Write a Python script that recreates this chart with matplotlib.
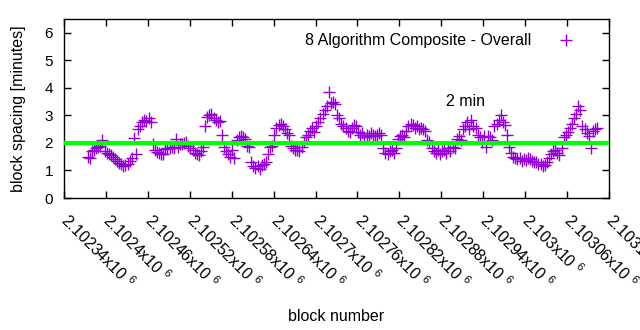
import numpy as np
import matplotlib
matplotlib.use("Agg")
import matplotlib.pyplot as plt

plt.rcParams["font.family"] = ["Liberation Sans", "DejaVu Sans"]
plt.rcParams["mathtext.fontset"] = "custom"
plt.rcParams["mathtext.rm"] = "Liberation Sans"

# block numbers, one point every 3 blocks
blocks = np.arange(2102374, 2103104, 3)

# block spacing in minutes
spacing = [
    1.50, 1.45, 1.72, 1.75, 1.80, 1.85, 1.90, 2.10, 1.70, 1.65,
    1.60, 1.55, 1.50, 1.42, 1.35, 1.28, 1.22, 1.18, 1.20, 1.25,
    1.35, 1.45, 2.18, 1.58, 2.50, 2.60, 2.75, 2.85, 2.80, 2.90,
    2.75, 1.95, 1.75, 1.68, 1.62, 1.58, 1.60, 1.78, 1.82, 1.80,
    1.85, 1.80, 2.15, 1.85, 1.95, 1.95, 2.00, 2.05, 1.90, 1.80,
    1.75, 1.65, 1.60, 1.55, 1.72, 1.85, 2.60, 2.95, 3.00, 3.05,
    2.90, 2.85, 2.75, 2.80, 2.30, 1.85, 1.70, 1.60, 1.50, 1.75,
    1.45, 2.10, 2.20, 2.25, 2.20, 2.15, 1.90, 1.85, 1.30, 1.15,
    1.10, 1.15, 1.05, 1.20, 1.25, 1.30, 1.60, 1.85, 1.90, 2.30,
    2.55, 2.65, 2.70, 2.60, 2.50, 2.35, 2.30, 1.90, 1.80, 1.75,
    1.75, 1.70, 1.85, 2.05, 2.20, 2.30, 2.45, 2.55, 2.40, 2.60,
    2.75, 2.90, 3.05, 3.20, 3.35, 3.85, 3.45, 3.50, 3.40, 3.00,
    2.90, 2.70, 2.60, 2.55, 2.45, 2.40, 2.55, 2.65, 2.60, 2.40,
    2.30, 2.35, 2.20, 2.30, 2.25, 2.35, 2.30, 2.25, 2.30, 2.35,
    2.30, 1.80, 1.65, 1.60, 1.70, 1.75, 1.65, 1.80, 2.15, 2.25,
    2.30, 2.20, 2.45, 2.60, 2.70, 2.65, 2.55, 2.60, 2.50, 2.55,
    2.50, 2.45, 2.10, 2.05, 1.80, 1.70, 1.65, 1.75, 1.60, 1.70,
    1.75, 1.65, 1.80, 1.70, 1.85, 1.80, 2.15, 2.25, 2.10, 2.50,
    2.60, 2.75, 2.50, 2.85, 2.60, 2.55, 2.30, 2.20, 2.05, 2.25,
    1.85, 2.25, 2.20, 2.10, 2.60, 2.70, 2.85, 3.00, 2.75, 2.65,
    2.30, 1.85, 1.65, 1.50, 1.45, 1.40, 1.45, 1.35, 1.42, 1.38,
    1.45, 1.40, 1.35, 1.30, 1.32, 1.25, 1.22, 1.18, 1.20, 1.30,
    1.45, 1.60, 1.70, 1.75, 1.65, 1.55, 1.80, 2.20, 2.30, 2.40,
    2.55, 2.70, 2.90, 3.05, 3.35, 3.20, 2.60, 2.50, 2.35, 2.25,
    1.80, 2.45, 2.50, 2.55,
]

target = 2.0
x_ticks = np.arange(2102340, 2103121, 60)
fs = 11.5

fig = plt.figure(figsize=(6.4, 3.3), dpi=100)
ax = fig.add_axes([0.1, 0.4, 0.8516, 0.5424])

ax.plot(blocks, spacing, "+", color="#9400d3", ms=8, mew=1,
        label="8 Algorithm Composite - Overall", zorder=2)
ax.axhline(target, color="#00ff00", lw=3, zorder=3)
ax.text(2102886, 3.5, "2 min", fontsize=fs, va="center", ha="left")

ax.set_xlim(2102340, 2103120)
ax.set_ylim(0, 6.5)
ax.set_yticks(range(7))
ax.set_xticks(x_ticks)
ax.set_xticklabels([f"{v / 1e6:g}x10 $^6$" for v in x_ticks],
                   rotation=-45, ha="left", va="center", rotation_mode="anchor")
ax.tick_params(direction="in", length=5, top=True, right=True, width=1)
ax.tick_params(axis="y", pad=8, labelsize=11)
ax.tick_params(axis="x", pad=14, labelsize=fs)
for s in ax.spines.values():
    s.set_linewidth(1)

ax.set_xlabel("block number", fontsize=fs, labelpad=12)
ax.set_ylabel("block spacing [minutes]", fontsize=fs, labelpad=13)
ax.legend(loc="upper right", bbox_to_anchor=(0.984, 1.0), frameon=False,
          markerfirst=False, fontsize=fs, handlelength=2.5,
          handletextpad=0.9)

fig.savefig("out.png", dpi=100)
